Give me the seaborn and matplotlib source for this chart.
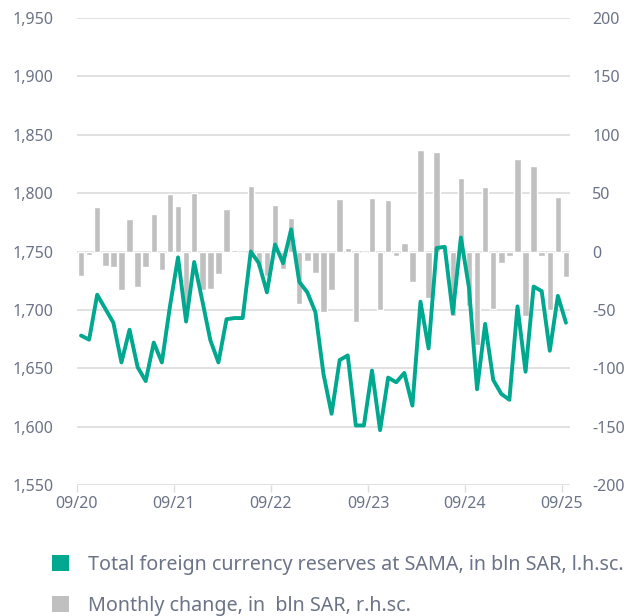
import matplotlib
matplotlib.use("Agg")
import matplotlib.pyplot as plt
from matplotlib.patches import Patch
import seaborn as sns
import pandas as pd
import numpy as np

# ---- data ----
months = [d.strftime("%m/%y") for d in pd.date_range("2020-09-01", "2025-09-01", freq="MS")]
reserves = [1678, 1674.5, 1713, 1701, 1689, 1655, 1683, 1651, 1639, 1672,
            1655, 1703, 1745, 1690, 1741, 1708, 1674, 1655, 1692, 1693,
            1693, 1750, 1740, 1715, 1756, 1740, 1769, 1724, 1715, 1698,
            1645, 1611, 1657, 1661, 1601, 1601, 1648, 1597, 1642, 1638,
            1646, 1618, 1707, 1667, 1753, 1754, 1697, 1762, 1719, 1632,
            1688, 1640, 1628, 1623, 1703, 1647, 1720, 1716, 1665, 1712,
            1689]
changes = [-21, -3, 38, -12, -13, -33, 28, -30, -13, 32,
           -16, 49, 39, -52, 50, -33, -32, -19, 36, 1,
           0, 56, -13, -21, 40, -15, 28.5, -45, -8, -18,
           -52, -33, 45, 3, -60.5, -1, 46, -50, 44, -3.5,
           7, -26.5, 87, -40, 85, 1, -55, 63, -47, -80.5,
           55.5, -49, -10, -4, 79, -55.5, 73, -4, -50.5, 46.5,
           -22]
year_labels = ["09/20", "09/21", "09/22", "09/23", "09/24", "09/25"]
left_ticks = [1550, 1600, 1650, 1700, 1750, 1800, 1850, 1900, 1950]
right_ticks = [-200, -150, -100, -50, 0, 50, 100, 150, 200]

df = pd.DataFrame({"month": months, "reserves": reserves, "change": changes,
                   "pos": np.arange(len(months))})

TEAL = "#00a88f"
GREY = "#c0c0c0"
TXT = "#6b7386"
GRID = "#dcdcdc"

sns.set_theme(style="white")
plt.rcParams["font.family"] = ["Noto Sans", "DejaVu Sans"]

W, H = 632, 616
fig = plt.figure(figsize=(W / 100, H / 100), dpi=100)
ax = fig.add_axes([77 / W, 1 - 485 / H, (570 - 77) / W, (485 - 18) / H])

# bars (monthly change) on base axes -> right-hand scale
sns.barplot(data=df, x="pos", y="change", color=GREY, width=0.8,
            saturation=1, ax=ax, zorder=2)
for t in right_ticks:
    ax.axhline(t, color=GRID, lw=1.2, zorder=0)

# line (reserves) on twin axes -> left-hand scale
ax2 = ax.twinx()
sns.lineplot(data=df, x="pos", y="reserves", color=TEAL, lw=2.8, ax=ax2,
             zorder=3)

n = len(months)
year_pos = [i - 0.5 for i, m in enumerate(months) if m.startswith("09/")]

ax.set_ylim(-200, 200)
ax.set_xlim(-0.5, n - 0.5)
ax.set_yticks(right_ticks)
ax.set_yticklabels([f"{t:d}" for t in right_ticks])
ax.set_xticks(year_pos)
ax.set_xticklabels(year_labels)

ax2.set_ylim(1550, 1950)
ax2.set_xlim(-0.5, n - 0.5)
ax2.set_yticks(left_ticks)
ax2.set_yticklabels([f"{t:,}" for t in left_ticks])

for a in (ax, ax2):
    a.set_xlabel("")
    a.set_ylabel("")
    for s in a.spines.values():
        s.set_visible(False)

ax.tick_params(axis="y", left=False, right=False, labelleft=False,
               labelright=True, length=0, labelsize=11.5, pad=16,
               labelcolor=TXT)
ax2.tick_params(axis="y", left=False, right=False, labelleft=True,
                labelright=False, length=0, labelsize=11.5, pad=17,
                labelcolor=TXT)
ax.tick_params(axis="x", bottom=True, length=5, width=1, color=GRID,
               labelsize=11.5, pad=3, labelcolor=TXT)
ax2.tick_params(axis="x", bottom=False, top=False, labelbottom=False,
                labeltop=False)

handles = [Patch(facecolor=TEAL, edgecolor="none"),
           Patch(facecolor=GREY, edgecolor="none")]
labels = ["Total foreign currency reserves at SAMA, in bln SAR, l.h.sc.",
          "Monthly change, in  bln SAR, r.h.sc."]
fig.legend(handles, labels, loc="upper left",
           bbox_to_anchor=(42 / W, 1 - 545 / H), frameon=False,
           fontsize=14.2, handlelength=0.85, handleheight=0.85,
           handletextpad=1.0, labelspacing=1.05, borderpad=0,
           labelcolor=TXT)

fig.savefig("out.png", dpi=100)
